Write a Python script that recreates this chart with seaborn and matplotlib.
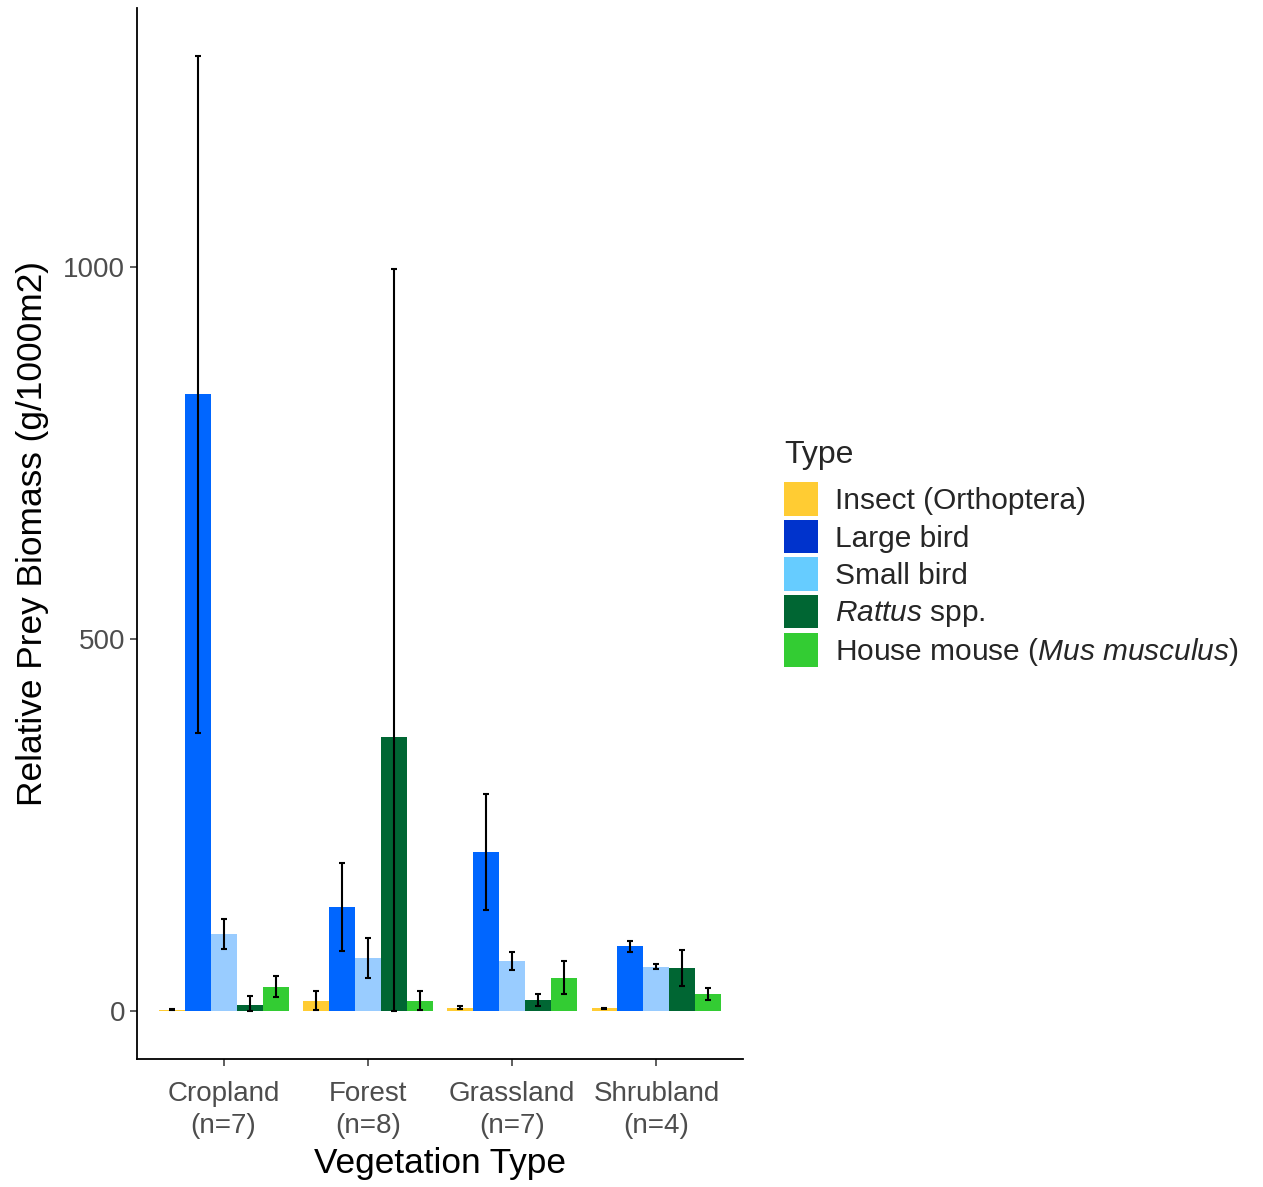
import numpy as np
import pandas as pd
import matplotlib
matplotlib.use("Agg")
import matplotlib.pyplot as plt
import seaborn as sns
from matplotlib.patches import Patch

# Categories
vegetation = ["Cropland\n(n=7)", "Forest\n(n=8)", "Grassland\n(n=7)", "Shrubland\n(n=4)"]
prey_types = ["Insect (Orthoptera)", "Large bird", "Small bird", "Rattus spp.",
              "House mouse (Mus musculus)"]
legend_labels = ["Insect (Orthoptera)", "Large bird", "Small bird",
                 r"$\mathit{Rattus}$ spp.", r"House mouse ($\mathit{Mus\ musculus}$)"]

# Mean relative biomass (g/1000m2) and standard error per vegetation type
insect_mean = [2, 14, 5, 4]
insect_se = [1, 13, 2, 1]
large_bird_mean = [829, 140, 214, 87]
large_bird_se = [455, 59, 78, 7]
small_bird_mean = [104, 71, 68, 60]
small_bird_se = [20, 27, 12, 3]
rattus_mean = [9, 368, 15, 58]
rattus_se = [11, 630, 8, 24]
mouse_mean = [33, 14, 45, 23]
mouse_se = [14, 13, 22, 8]

bar_colors = ["#FFCC33", "#0066FF", "#99CCFF", "#006633", "#33CC33"]
key_colors = ["#FFCC33", "#0033CC", "#66CCFF", "#006633", "#33CC33"]

means = [insect_mean, large_bird_mean, small_bird_mean, rattus_mean, mouse_mean]
ses = [insect_se, large_bird_se, small_bird_se, rattus_se, mouse_se]

rows = []
for t, m_list, s_list in zip(prey_types, means, ses):
    for v, m, s in zip(vegetation, m_list, s_list):
        rows.append({"Vegetation": v, "Type": t, "Biomass": m, "SE": s})
df = pd.DataFrame(rows)

sns.set_theme(style="ticks")
plt.rcParams["font.family"] = ["Liberation Sans", "DejaVu Sans"]
plt.rcParams["mathtext.fontset"] = "custom"
plt.rcParams["mathtext.rm"] = "Liberation Sans"
plt.rcParams["mathtext.it"] = "Liberation Sans:italic"

fig = plt.figure(figsize=(12.63, 11.87), dpi=100)
ax = fig.add_axes([137 / 1263, 1 - 1059 / 1187, (743 - 137) / 1263, (1059 - 8) / 1187])

sns.barplot(data=df, x="Vegetation", y="Biomass", hue="Type",
            order=vegetation, hue_order=prey_types,
            palette=dict(zip(prey_types, bar_colors)),
            width=0.9, errorbar=None, legend=False, saturation=1,
            linewidth=0, ax=ax)

# Error bars: lower end truncated at zero
uppers = []
for cont, t in zip(ax.containers, prey_types):
    sub = df[df["Type"] == t].set_index("Vegetation").loc[vegetation]
    xs = [b.get_x() + b.get_width() / 2 for b in cont]
    m = sub["Biomass"].to_numpy(float)
    s = sub["SE"].to_numpy(float)
    lo = m - np.maximum(0, m - s)
    ax.errorbar(xs, m, yerr=[lo, s], fmt="none", ecolor="black",
                elinewidth=1.5, capsize=2.5, capthick=1.5, zorder=5)
    uppers.extend(m + s)

ymax = max(uppers)
pad = 0.05 * ymax
ax.set_ylim(-pad, ymax + pad)
ax.set_xlim(-0.6, len(vegetation) - 0.4)
ax.set_yticks([0, 500, 1000])

sns.despine(ax=ax)
for sp in ["left", "bottom"]:
    ax.spines[sp].set_linewidth(1.3)
    ax.spines[sp].set_color("black")
ax.tick_params(axis="both", length=5, width=1.1, color="#333333",
               labelsize=20, labelcolor="#4D4D4D")
ax.tick_params(axis="x", pad=10.5)
for lab in ax.get_xticklabels():
    lab.set_linespacing(1.32)
ax.set_xlabel("Vegetation Type", fontsize=25.4, color="black", labelpad=6)
ax.set_ylabel("Relative Prey Biomass (g/1000m2)", fontsize=25.4, color="black", labelpad=10)

handles = [Patch(facecolor=c, edgecolor="none") for c in key_colors]
leg = fig.legend(handles, legend_labels, title="Type", loc="upper left",
                 bbox_to_anchor=(772 / 1263, 1 - 428 / 1187),
                 frameon=False, fontsize=21.5, title_fontsize=23,
                 handlelength=1.15, handleheight=1.35, handletextpad=0.55,
                 labelspacing=0.13, borderaxespad=0)
leg._legend_box.align = "left"
leg._legend_box.sep = 9.0

fig.savefig("out.png", dpi=100)
